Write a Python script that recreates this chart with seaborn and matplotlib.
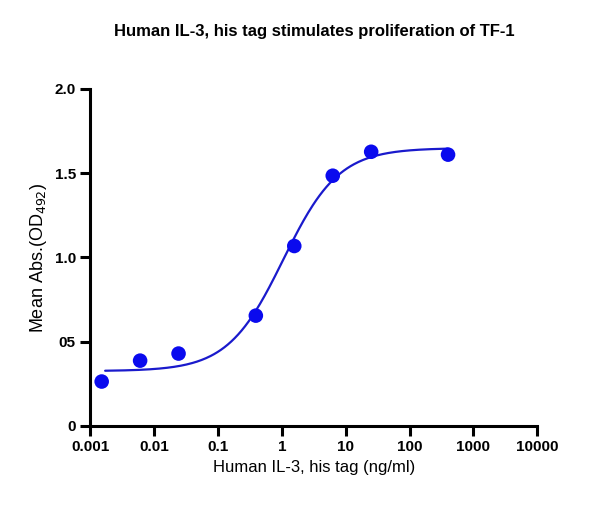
import numpy as np
import matplotlib
matplotlib.use("Agg")
import matplotlib.pyplot as plt
import seaborn as sns

# datos
conc = [0.0015, 0.006, 0.024, 0.39, 1.56, 6.25, 25, 400]
absorb = [0.263, 0.387, 0.429, 0.654, 1.067, 1.484, 1.626, 1.609]
# parametros del ajuste 4PL (estimados)
fondo, techo, ec50, hill = 0.325, 1.648, 1.05, 1.0

sns.set_style("ticks")
plt.rcParams['font.family'] = ['Liberation Sans', 'DejaVu Sans']
plt.rcParams.update({"text.color": "black", "axes.labelcolor": "black",
                     "xtick.color": "black", "ytick.color": "black",
                     "axes.edgecolor": "black"})

fig, ax = plt.subplots(figsize=(5.95, 5.07), dpi=100)
fig.subplots_adjust(left=0.152, right=0.903, top=0.825, bottom=0.16)

xs = np.logspace(np.log10(0.0017), np.log10(400), 300)
ys = fondo + (techo - fondo) / (1 + (ec50 / xs) ** hill)
sns.lineplot(x=xs, y=ys, color="#1a1acc", lw=1.6, ax=ax)
sns.scatterplot(x=conc, y=absorb, color="#0a0aee", s=110, edgecolor="none", ax=ax, zorder=3)

ax.set_xscale("log")
ax.set_xlim(0.001, 10000)
ax.set_ylim(0, 2.0)
ax.set_xticks([0.001, 0.01, 0.1, 1, 10, 100, 1000, 10000])
ax.set_xticklabels(["0.001", "0.01", "0.1", "1", "10", "100", "1000", "10000"], fontweight="bold", fontsize=11)
ax.minorticks_off()
ax.set_yticks([0, 0.5, 1.0, 1.5, 2.0])
ax.set_yticklabels(["0", "05", "1.0", "1.5", "2.0"], fontweight="bold", fontsize=11)
for s in ["left", "bottom"]:
    ax.spines[s].set_linewidth(2.2)
sns.despine(ax=ax)
ax.tick_params(width=2.2, length=7)

ax.set_xlabel("Human IL-3, his tag (ng/ml)", fontsize=12)
ax.set_ylabel("Mean Abs.(OD$_{492}$)", fontsize=13)
ax.set_title("Human IL-3, his tag stimulates proliferation of TF-1", fontsize=12, fontweight="bold", pad=38)

plt.savefig("out.png", dpi=100)
